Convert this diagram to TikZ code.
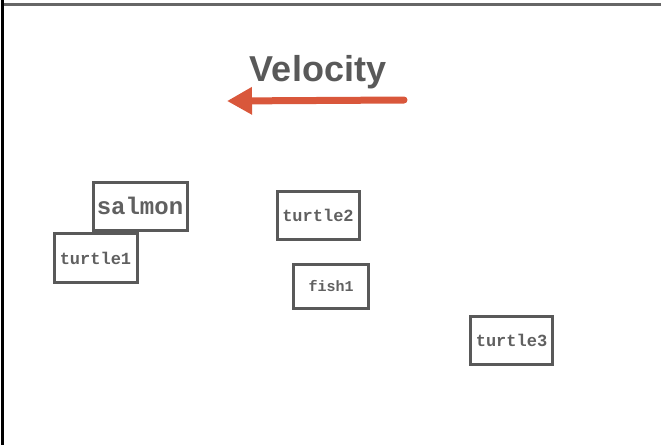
\documentclass[tikz,border=0pt]{standalone}
\usepackage{fontspec}
\setmainfont{Liberation Sans}
\newfontfamily\couriermono{Liberation Mono}
\usetikzlibrary{arrows.meta}
\definecolor{inkgray}{HTML}{595959}
\definecolor{labelgray}{HTML}{606060}
\definecolor{framegray}{HTML}{666666}
\definecolor{arrowred}{HTML}{D9573B}
\tikzset{
  agent/.style={draw=inkgray, line width=3pt, fill=white, inner sep=0pt,
    text=labelgray, font=\couriermono\bfseries\fontsize{17}{17}\selectfont},
  bigagent/.style={agent, font=\couriermono\bfseries\fontsize{24}{24}\selectfont},
  smallagent/.style={agent, font=\couriermono\bfseries\fontsize{15}{15}\selectfont},
}
\begin{document}
\begin{tikzpicture}[x=1pt, y=-1pt]
  \useasboundingbox (0,0) rectangle (661,445);
  % frame edges
  \draw[framegray, line width=3pt] (3,4) -- (661,4);
  \draw[black, line width=3pt] (2,0) -- (2,445);
  % title and velocity arrow
  \node[text=inkgray, font=\bfseries\fontsize{36}{36}\selectfont] (title) at (318,72) {Velocity};
  \coordinate (vstart) at (404,100);
  \coordinate (vend) at (227,101);
  \draw[arrowred, line width=7pt, line cap=round,
        -{Triangle[length=25pt, width=26pt]}] (vstart) -- (vend);
  % agents
  \node[bigagent, minimum width=94pt, minimum height=48pt] (salmon) at (140,206) {salmon};
  \node[agent, minimum width=83pt, minimum height=49pt] (turtle1) at (95.5,258) {turtle1};
  \node[agent, minimum width=82pt, minimum height=48pt] (turtle2) at (318,215) {turtle2};
  \node[smallagent, minimum width=75pt, minimum height=44pt] (fish1) at (331,286.5) {fish1};
  \node[agent, minimum width=82pt, minimum height=48pt] (turtle3) at (511.5,340) {turtle3};
\end{tikzpicture}
\end{document}
